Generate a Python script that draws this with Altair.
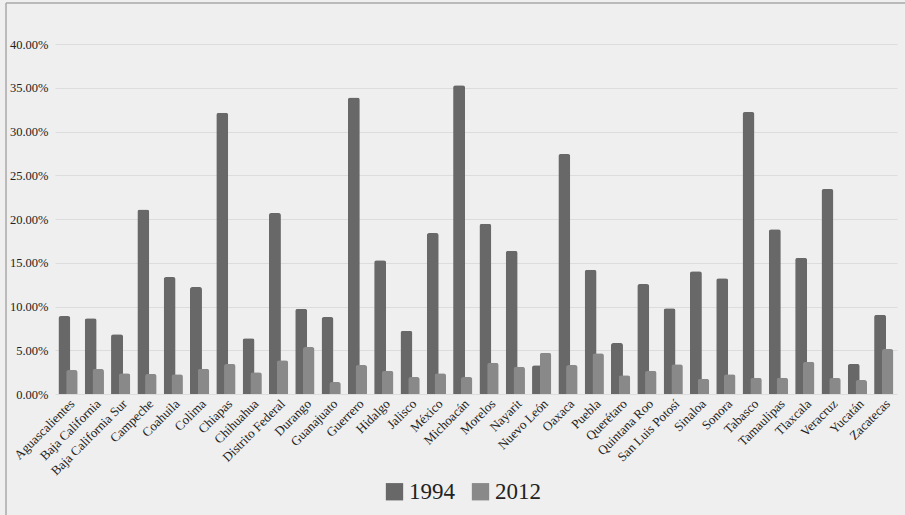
import altair as alt
import pandas as pd

# Pobreza alimentaria por entidad federativa (porcentaje de la población)
estados = [
    "Aguascalientes", "Baja California", "Baja California Sur", "Campeche",
    "Coahuila", "Colima", "Chiapas", "Chihuahua", "Distrito Federal",
    "Durango", "Guanajuato", "Guerrero", "Hidalgo", "Jalisco", "México",
    "Michoacán", "Morelos", "Nayarit", "Nuevo León", "Oaxaca", "Puebla",
    "Querétaro", "Quintana Roo", "San Luis Potosí", "Sinaloa", "Sonora",
    "Tabasco", "Tamaulipas", "Tlaxcala", "Veracruz", "Yucatán", "Zacatecas",
]
valores_1994 = [
    8.91, 8.65, 6.82, 21.10, 13.37, 12.23, 32.15, 6.36, 20.69, 9.75, 8.80,
    33.90, 15.28, 7.24, 18.40, 35.28, 19.47, 16.38, 3.28, 27.43, 14.21,
    5.83, 12.57, 9.79, 14.02, 13.22, 32.23, 18.82, 15.58, 23.43, 3.43, 9.07,
]
valores_2012 = [
    2.74, 2.86, 2.36, 2.29, 2.25, 2.90, 3.43, 2.48, 3.85, 5.37, 1.37,
    3.31, 2.67, 1.94, 2.36, 1.94, 3.58, 3.12, 4.72, 3.31, 4.65,
    2.13, 2.67, 3.39, 1.75, 2.25, 1.87, 1.87, 3.70, 1.83, 1.60, 5.14,
]
anios = ["1994", "2012"]
colores = ["#686868", "#898989"]
ticks_y = [0, 5, 10, 15, 20, 25, 30, 35, 40]

df = pd.concat([
    pd.DataFrame({"estado": estados, "anio": anios[0], "valor": valores_1994}),
    pd.DataFrame({"estado": estados, "anio": anios[1], "valor": valores_2012}),
])

fuente = "Liberation Serif"

x_enc = alt.X(
    "estado:N", sort=estados, title=None,
    scale=alt.Scale(paddingInner=0, paddingOuter=0),
    axis=alt.Axis(labelAngle=-45, labelAlign="right", labelBaseline="top",
                  labelPadding=3, ticks=False, domain=False, labelFontSize=13,
                  labelColor="#222222", labelOverlap=False),
)
y_enc = alt.Y(
    "valor:Q", title=None,
    scale=alt.Scale(domain=[0, 40], nice=False),
    axis=alt.Axis(values=ticks_y, labelExpr="format(datum.value, '.2f') + '%'",
                  ticks=False, domain=False, labelPadding=7, labelFontSize=12.5,
                  labelColor="#222222",
                  gridColor="#dcdcdc", gridWidth=1),
)
color_enc = alt.Color(
    "anio:N", title=None,
    scale=alt.Scale(domain=anios, range=colores),
    legend=alt.Legend(orient="none", legendX=328, legendY=436,
                      direction="horizontal", symbolType="square",
                      symbolSize=300, symbolStrokeWidth=0, symbolOpacity=1,
                      labelFontSize=23, labelColor="#222222",
                      labelOffset=3, columnPadding=14),
)

def barras(anio, desplazamiento, ancho):
    return alt.Chart(df).transform_filter(
        alt.datum.anio == anio
    ).mark_bar(
        xOffset=desplazamiento, width=ancho, opacity=1,
        cornerRadiusTopLeft=2.5, cornerRadiusTopRight=2.5,
    ).encode(x=x_enc, y=y_enc, color=color_enc)

# Marco del gráfico (borde superior e izquierdo)
marco = pd.DataFrame({"k": [0]})
borde_sup = alt.Chart(marco).mark_rule(color="#a9a9a9", strokeWidth=1.5).encode(
    x=alt.value(-49), x2=alt.value(860), y=alt.value(-41))
borde_izq = alt.Chart(marco).mark_rule(color="#a9a9a9", strokeWidth=1.5).encode(
    x=alt.value(-49), y=alt.value(-41), y2=alt.value(480))

chart = alt.layer(
    barras("1994", -3.75, 12), barras("2012", 3.75, 11.5), borde_sup, borde_izq
).properties(
    width=842, height=350,
    autosize=alt.AutoSizeParams(type="none"),
    padding={"left": 55, "top": 44, "right": 8, "bottom": 121},
    background="#efefef",
).configure(
    font=fuente,
).configure_axis(
    labelFont=fuente,
).configure_legend(
    labelFont=fuente,
).configure_view(stroke=None)

chart.save("out.html", embed_options={"renderer": "svg", "actions": False})
